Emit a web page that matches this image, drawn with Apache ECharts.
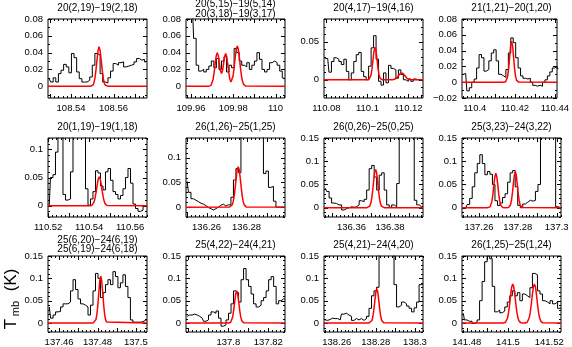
<!DOCTYPE html>
<html><head><meta charset="utf-8">
<script src="https://cdn.jsdelivr.net/npm/echarts@6/dist/echarts.min.js"></script>
<style>html,body{margin:0;padding:0;background:#fff}#c{width:572px;height:347px}</style>
</head><body><div id="c"></div>
<script>
// ---------- panel titles ----------
const titles = [
  ['20(2,19)\u221219(2,18)'], ['20(5,15)\u221219(5,14)', '20(3,18)\u221219(3,17)'], ['20(4,17)\u221219(4,16)'], ['21(1,21)\u221220(1,20)'],
  ['20(1,19)\u221219(1,18)'], ['26(1,26)\u221225(1,25)'], ['26(0,26)\u221225(0,25)'], ['25(3,23)\u221224(3,22)'],
  ['25(6,20)\u221224(6,19)', '25(6,19)\u221224(6,18)'], ['25(4,22)\u221224(4,21)'], ['25(4,21)\u221224(4,20)'], ['26(1,25)\u221225(1,24)']
];
// ---------- axis ranges (GHz, K) ----------
const xMin = [108.5291, 109.9576, 110.0788, 110.3936, 110.5199, 136.2497, 136.3457, 137.2513, 137.4542, 137.7789, 138.2535, 141.4777];
const xMax = [108.5758, 110.0045, 110.1271, 110.4411, 110.5682, 136.2992, 136.3971, 137.3022, 137.5058, 137.8283, 138.3041, 141.5257];
const yMin = [-0.014, -0.014, -0.024, -0.02, -0.02, -0.02, -0.02, -0.02, -0.02, -0.02, -0.02, -0.02];
const yMax = [0.08, 0.08, 0.08, 0.08, 0.12, 0.14, 0.15, 0.15, 0.15, 0.15, 0.15, 0.15];
// ---------- tick labels ----------
const xTickLabels = [
  [108.54, 108.56], [109.96, 109.98, 110], [110.08, 110.1, 110.12], [110.4, 110.42, 110.44],
  [110.52, 110.54, 110.56], [136.26, 136.28], [136.36, 136.38], [137.26, 137.28, 137.3],
  [137.46, 137.48, 137.5], [137.8, 137.82], [138.26, 138.28, 138.3], [141.48, 141.5, 141.52]
];
const yTickLabels = [
  [0, 0.02, 0.04, 0.06, 0.08], [0, 0.02, 0.04, 0.06, 0.08], [0, 0.05], [-0.02, 0, 0.02, 0.04, 0.06, 0.08],
  [0, 0.05, 0.1], [0, 0.05, 0.1], [0, 0.05, 0.1, 0.15], [0, 0.05, 0.1, 0.15],
  [0, 0.05, 0.1, 0.15], [0, 0.05, 0.1, 0.15], [0, 0.05, 0.1, 0.15], [0, 0.05, 0.1, 0.15]
];
const xMajorStep = [0.01, 0.01, 0.01, 0.01, 0.01, 0.01, 0.01, 0.01, 0.01, 0.01, 0.01, 0.01];
const xMinorStep = [0.002, 0.002, 0.002, 0.002, 0.002, 0.002, 0.002, 0.002, 0.002, 0.002, 0.002, 0.002];
const yMajorStep = [0.02, 0.02, 0.05, 0.02, 0.05, 0.05, 0.05, 0.05, 0.05, 0.05, 0.05, 0.05];
const yMinorStep = [0.01, 0.01, 0.01, 0.01, 0.01, 0.01, 0.01, 0.01, 0.01, 0.01, 0.01, 0.01];

// ---------- observed spectra (channel start freq, channel width, T_mb values) ----------
const specStart = [108.5297, 109.9582, 110.0794, 110.3942, 110.5205, 136.2503, 136.3464, 137.2520, 137.4549, 137.7795, 138.2541, 141.4783];
const specWidth = [0.00123, 0.0012, 0.00121, 0.00122, 0.00122, 0.00125, 0.0013, 0.0013, 0.0013, 0.00125, 0.00128, 0.00122];
const spec1 = [0.009, 0.005, 0.010, 0.005, 0.015, 0.019, 0.026, 0.023, 0.016, 0.039, 0.034, 0.017, 0.009, 0.005, 0.005, 0.007, 0.011, 0.025, 0.039, 0.037, 0.015, 0.005, 0.004, 0.010, 0.018, 0.027, 0.025, 0.028, 0.029, 0.023, 0.024, 0.025, 0.026, 0.029, 0.033, 0.031, 0.032, 0.029];
const spec2 = [0.1, 0.1, 0.1, 0.057, 0.025, 0.018, 0.020, 0.017, 0.020, 0.024, 0.030, 0.022, 0.033, 0.020, 0.030, 0.035, 0.017, 0.025, 0.022, 0.045, 0.040, 0.030, 0.025, 0.023, 0.028, 0.020, 0.025, 0.030, 0.040, 0.032, 0.020, 0.017, 0.020, 0.028, 0.030, 0.028, 0.025, 0.018, 0.010];
const spec3 = [0.028, 0.028, 0.010, 0.024, 0.029, 0.027, 0.024, 0.020, 0.027, 0.011, 0.000, 0.009, 0.024, 0.033, 0.036, 0.011, 0.004, 0.000, 0.018, 0.042, 0.058, 0.027, -0.002, -0.007, 0.009, -0.004, 0.019, 0.015, 0.013, 0.002, 0.013, 0.007, 0.000, -0.002, 0.001, -0.002, 0.001, 0.000, 0.000, 0.000];
const spec4 = [0.010, 0.011, -0.011, -0.007, 0.000, 0.004, 0.018, 0.035, 0.031, 0.014, 0.016, 0.027, 0.037, 0.041, 0.027, 0.010, 0.008, 0.006, 0.016, 0.037, 0.056, 0.050, 0.031, 0.018, 0.008, 0.005, 0.004, 0.005, 0.000, -0.004, -0.005, -0.004, -0.005, 0.000, 0.003, 0.008, 0.013, 0.018, 0.020, 0.017];
const spec5 = [0.000, 0.050, 0.055, 0.095, 0.13, 0.13, 0.020, 0.010, 0.012, 0.060, 0.13, 0.13, 0.13, 0.13, 0.13, 0.030, 0.001, 0.012, 0.025, 0.062, 0.058, 0.035, 0.028, 0.060, 0.066, 0.045, 0.025, 0.020, 0.012, 0.018, 0.030, 0.050, 0.066, 0.040, 0.003, -0.005, -0.010, -0.008, 0.000, 0.000];
const spec6 = [0.052, 0.030, 0.017, 0.014, 0.011, 0.008, 0.006, 0.003, -0.001, -0.003, -0.006, -0.003, 0.000, 0.004, 0.006, 0.002, 0.005, 0.004, 0.020, 0.055, 0.078, 0.070, 0.2, 0.2, 0.2, 0.2, 0.2, 0.2, 0.2, 0.2, 0.2, 0.068, 0.073, 0.040, 0.042, 0.012, 0.000, 0.000, 0.000, 0.000];
const spec7 = [0.042, 0.035, 0.021, 0.010, 0.009, 0.006, 0.006, -0.005, -0.002, 0.000, 0.002, 0.001, 0.002, 0.006, 0.015, 0.013, 0.018, 0.038, 0.084, 0.091, 0.066, 0.038, 0.070, 0.075, 0.038, 0.006, 0.001, 0.006, 0.002, 0.052, 0.2, 0.2, 0.2, 0.2, 0.2, 0.2, 0.016, 0.006, 0.002, 0.002];
const spec8 = [-0.002, 0.000, 0.007, 0.020, 0.045, 0.075, 0.095, 0.114, 0.095, 0.071, 0.078, 0.072, 0.050, 0.015, 0.005, 0.010, 0.022, 0.030, 0.055, 0.075, 0.080, 0.045, 0.005, 0.000, 0.008, 0.012, 0.016, 0.014, 0.016, 0.035, 0.050, 0.2, 0.2, 0.2, 0.2, 0.2, 0.2, 0.002, 0.000, 0.000];
const spec9 = [0.036, 0.011, 0.018, 0.025, 0.026, 0.036, 0.043, 0.043, 0.047, 0.072, 0.097, 0.075, 0.054, 0.043, 0.040, 0.036, 0.018, 0.040, 0.072, 0.111, 0.100, 0.057, 0.068, 0.086, 0.097, 0.086, 0.115, 0.104, 0.079, 0.090, 0.108, 0.082, 0.057, 0.007, 0.002, 0.002, 0.002, 0.003, 0.006, 0.006];
const spec10 = [0.015, 0.018, 0.018, 0.020, 0.018, 0.015, 0.011, 0.004, 0.007, 0.018, 0.025, 0.022, 0.027, 0.011, -0.007, -0.004, 0.007, 0.022, 0.043, 0.072, 0.068, 0.047, 0.097, 0.122, 0.097, 0.082, 0.065, 0.043, 0.036, 0.040, 0.050, 0.057, 0.072, 0.097, 0.104, 0.082, 0.043, 0.050, 0.054, 0.054];
const spec11 = [0.007, 0.006, 0.008, 0.011, 0.010, 0.010, 0.007, 0.020, 0.022, 0.018, 0.015, 0.006, 0.010, 0.007, 0.010, 0.006, 0.010, 0.015, 0.033, 0.061, 0.072, 0.080, 0.2, 0.2, 0.2, 0.2, 0.2, 0.2, 0.086, 0.036, 0.040, 0.047, 0.043, 0.038, 0.033, 0.025, 0.034, 0.047, 0.086, 0.086];
const spec12 = [0.022, 0.007, 0.004, 0.004, -0.001, 0.002, 0.007, 0.050, 0.093, 0.137, 0.150, 0.144, 0.082, 0.025, 0.029, 0.023, 0.027, 0.036, 0.047, 0.061, 0.072, 0.061, 0.068, 0.050, 0.065, 0.061, 0.057, 0.079, 0.111, 0.108, 0.072, 0.065, 0.050, 0.047, 0.043, 0.050, 0.043, 0.047, 0.033, 0.033];
const spectra = [spec1, spec2, spec3, spec4, spec5, spec6, spec7, spec8, spec9, spec10, spec11, spec12];

// ---------- fitted profiles (red), sampled every fitStep from fitStart ----------
const fitStart = [108.5492, 109.9684, 110.0987, 110.4144, 110.5404, 136.2713, 136.3680, 137.2642, 137.4777, 137.8002, 138.2765, 141.4978];
const fitStep = 0.0005;
const fit1 = [0.0001, 0.0003, 0.0011, 0.0035, 0.0090, 0.0186, 0.0311, 0.0424, 0.047, 0.0424, 0.0311, 0.0186, 0.0090, 0.0035, 0.0011, 0.0003, 0.0001];
const fit2 = [0.0001, 0.0003, 0.0010, 0.0030, 0.0076, 0.0158, 0.0265, 0.0361, 0.0400, 0.0363, 0.0274, 0.0187, 0.0151, 0.0184, 0.0268, 0.0354, 0.0390, 0.0352, 0.0258, 0.0156, 0.0081, 0.0050, 0.0064, 0.0122, 0.0220, 0.0339, 0.0440, 0.0480, 0.0440, 0.0339, 0.0220, 0.0120, 0.0055, 0.0021, 0.0007, 0.0002, 0.0];
const fit3 = [0, 0, 0, 0.0001, 0.0005, 0.0019, 0.0058, 0.0140, 0.0261, 0.0379, 0.043, 0.0379, 0.0261, 0.0140, 0.0058, 0.0019, 0.0005, 0.0001, 0, 0, 0, 0, 0, 0, 0, 0, 0, 0.0001, 0.0003, 0.0006, 0.0012, 0.0022, 0.0037, 0.0055, 0.0072, 0.0085, 0.009, 0.0085, 0.0072, 0.0055, 0.0037, 0.0022, 0.0012, 0.0006, 0.0003, 0.0001, 0];
const fit4 = [0, 0.0001, 0.0006, 0.0023, 0.0070, 0.0169, 0.0316, 0.0459, 0.052, 0.0459, 0.0316, 0.0169, 0.0070, 0.0023, 0.0006, 0.0001, 0];
const fit5 = [0.0001, 0.0003, 0.0010, 0.0029, 0.0069, 0.0142, 0.0248, 0.0370, 0.0471, 0.051, 0.0471, 0.0370, 0.0248, 0.0142, 0.0069, 0.0029, 0.0010, 0.0003, 0.0001];
const fit6 = [0.0001, 0.0005, 0.0016, 0.0046, 0.0111, 0.0228, 0.0399, 0.0595, 0.0757, 0.082, 0.0757, 0.0595, 0.0399, 0.0228, 0.0111, 0.0046, 0.0016, 0.0005, 0.0001];
const fit7 = [0.0001, 0.0003, 0.0012, 0.0036, 0.0094, 0.0205, 0.0378, 0.0583, 0.0757, 0.0825, 0.0757, 0.0583, 0.0378, 0.0205, 0.0094, 0.0036, 0.0012, 0.0003, 0.0001];
const fit8 = [0, 0.0001, 0.0005, 0.0018, 0.0056, 0.0141, 0.0292, 0.0490, 0.0667, 0.074, 0.0667, 0.0490, 0.0292, 0.0141, 0.0056, 0.0018, 0.0005, 0.0001, 0, 0, 0, 0.0001, 0.0005, 0.0019, 0.0059, 0.0148, 0.0306, 0.0513, 0.0699, 0.0775, 0.0699, 0.0513, 0.0306, 0.0148, 0.0059, 0.0019, 0.0005, 0.0001, 0];
const fit9 = [0.0001, 0.0007, 0.0026, 0.0079, 0.0201, 0.0415, 0.0695, 0.0947, 0.105, 0.0947, 0.0695, 0.0415, 0.0201, 0.0079, 0.0026, 0.0007, 0.0001];
const fit10 = [0.0001, 0.0005, 0.0017, 0.0054, 0.0138, 0.0284, 0.0477, 0.0649, 0.072, 0.0649, 0.0477, 0.0284, 0.0138, 0.0054, 0.0017, 0.0005, 0.0001];
const fit11 = [0.0001, 0.0005, 0.0019, 0.0058, 0.0147, 0.0303, 0.0508, 0.0693, 0.0768, 0.0693, 0.0508, 0.0303, 0.0147, 0.0058, 0.0019, 0.0005, 0.0001];
const fit12 = [0.0001, 0.0005, 0.0017, 0.0049, 0.0118, 0.0243, 0.0426, 0.0635, 0.0808, 0.0875, 0.0808, 0.0635, 0.0426, 0.0243, 0.0118, 0.0049, 0.0017, 0.0005, 0.0001, 0, 0, 0.0001, 0.0005, 0.0017, 0.0049, 0.0118, 0.0243, 0.0426, 0.0635, 0.0808, 0.0875, 0.0808, 0.0635, 0.0426, 0.0243, 0.0118, 0.0049, 0.0017, 0.0005, 0.0001];
const fits = [fit1, fit2, fit3, fit4, fit5, fit6, fit7, fit8, fit9, fit10, fit11, fit12];

const yTitle = ['T', 'mb', '(K)'];

// ---------- layout ----------
const COLS = [48, 186, 324, 462], ROWS = [19, 138, 256], PW = 99, PH = 79;
const FONT = '"Liberation Sans", Arial, sans-serif';
const MAJ = 4, MIN = 2;

function tickVals(min, max, step) {
  const out = [];
  for (let k = Math.ceil(min / step - 1e-6); k * step <= max + 1e-9; k++) out.push(+(k * step).toFixed(6));
  return out;
}
function tickData(min, max, majStep, minStep) {
  const maj = tickVals(min, max, majStep);
  const mn = tickVals(min, max, minStep).filter(v => !maj.some(m => Math.abs(m - v) < 1e-7));
  return maj.map(v => [v, MAJ]).concat(mn.map(v => [v, MIN]));
}
const fmt = v => String(+(+v).toFixed(4)).replace('-', '\u2212');
const px = v => Math.round(v) + 0.5;

const grids = [], xAxes = [], yAxes = [], series = [], graphics = [];
for (let i = 0; i < 12; i++) {
  const c = i % 4, r = Math.floor(i / 4);
  grids.push({ left: COLS[c], top: ROWS[r], width: PW, height: PH, show: true, borderColor: '#000', borderWidth: 1, backgroundColor: 'transparent' });
  xAxes.push({
    type: 'value', gridIndex: i, min: xMin[i], max: xMax[i], position: 'bottom',
    axisLine: { show: false }, axisTick: { show: false }, splitLine: { show: false },
    axisLabel: { show: true, customValues: xTickLabels[i], formatter: fmt, fontSize: 9.5, fontFamily: FONT, color: '#000', margin: 5 }
  });
  yAxes.push({
    type: 'value', gridIndex: i, min: yMin[i], max: yMax[i], position: 'left',
    axisLine: { show: false }, axisTick: { show: false }, splitLine: { show: false },
    axisLabel: { show: true, customValues: yTickLabels[i], formatter: fmt, fontSize: 9.5, fontFamily: FONT, color: '#000', margin: 5 }
  });

  // x ticks (bottom & top, pointing inward)
  series.push({
    type: 'custom', xAxisIndex: i, yAxisIndex: i, silent: true, animation: false, clip: false,
    data: tickData(xMin[i], xMax[i], xMajorStep[i], xMinorStep[i]).map(d => [d[0], 0, d[1]]),
    encode: { x: 0, y: 1 },
    renderItem: (params, api) => {
      const cs = params.coordSys, x = px(api.coord([api.value(0), 0])[0]), len = api.value(2);
      const st = { stroke: '#000', lineWidth: 1 };
      return { type: 'group', children: [
        { type: 'line', shape: { x1: x, y1: cs.y + cs.height, x2: x, y2: cs.y + cs.height - len }, style: st },
        { type: 'line', shape: { x1: x, y1: cs.y, x2: x, y2: cs.y + len }, style: st }
      ] };
    }
  });
  // y ticks (left & right, pointing inward)
  series.push({
    type: 'custom', xAxisIndex: i, yAxisIndex: i, silent: true, animation: false, clip: false,
    data: tickData(yMin[i], yMax[i], yMajorStep[i], yMinorStep[i]).map(d => [xMin[i], d[0], d[1]]),
    encode: { x: 0, y: 1 },
    renderItem: (params, api) => {
      const cs = params.coordSys, y = px(api.coord([api.value(0), api.value(1)])[1]), len = api.value(2);
      const st = { stroke: '#000', lineWidth: 1 };
      return { type: 'group', children: [
        { type: 'line', shape: { x1: cs.x, y1: y, x2: cs.x + len, y2: y }, style: st },
        { type: 'line', shape: { x1: cs.x + cs.width, y1: y, x2: cs.x + cs.width - len, y2: y }, style: st }
      ] };
    }
  });

  series.push({
    type: 'line', xAxisIndex: i, yAxisIndex: i, step: 'middle', symbol: 'none', clip: true,
    data: spectra[i].map((v, j) => [specStart[i] + j * specWidth[i], v]),
    lineStyle: { color: '#000', width: 1 }, animation: false, silent: true, z: 2
  });
  const fd = [[xMin[i], 0]].concat(fits[i].map((v, j) => [fitStart[i] + j * fitStep, v]), [[xMax[i], 0]]);
  series.push({
    type: 'line', xAxisIndex: i, yAxisIndex: i, symbol: 'none', clip: true, data: fd,
    lineStyle: { color: '#ff0000', width: 1.5 }, animation: false, silent: true, z: 3
  });

  const cx = COLS[c] + PW / 2;
  const t = titles[i];
  const ys = t.length === 1 ? [ROWS[r] - 10.5] : (r === 0 ? [4.5, 14] : [ROWS[r] - 16, ROWS[r] - 6.5]);
  t.forEach((s, k) => {
    graphics.push({ type: 'text', x: cx, y: ys[k], style: { text: s, fontSize: 10, fontFamily: FONT, fill: '#000', align: 'center', verticalAlign: 'middle' } });
  });
}
// y-axis title (rotated, reads bottom to top)
graphics.push({ type: 'text', x: 11, y: 324, rotation: Math.PI / 2, style: { text: yTitle[0], fontSize: 17, fontFamily: FONT, fill: '#000', align: 'center', verticalAlign: 'middle' } });
graphics.push({ type: 'text', x: 16, y: 308.5, rotation: Math.PI / 2, style: { text: yTitle[1], fontSize: 11, fontFamily: FONT, fill: '#000', align: 'center', verticalAlign: 'middle' } });
graphics.push({ type: 'text', x: 11, y: 280, rotation: Math.PI / 2, style: { text: yTitle[2], fontSize: 17, fontFamily: FONT, fill: '#000', align: 'center', verticalAlign: 'middle' } });

const chart = echarts.init(document.getElementById('c'), null, { renderer: 'canvas' });
chart.setOption({
  animation: false, backgroundColor: '#fff',
  grid: grids, xAxis: xAxes, yAxis: yAxes, series: series, graphic: graphics
});
</script></body></html>
